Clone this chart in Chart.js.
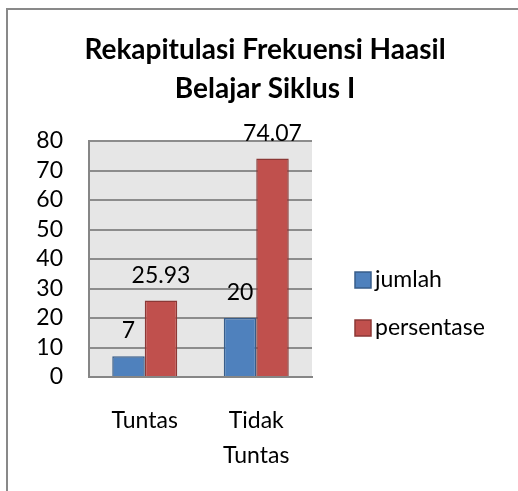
<!DOCTYPE html>
<html>
<head>
<meta charset="utf-8">
<script src="https://cdn.jsdelivr.net/npm/chart.js@4"></script>
<style>
  body { margin: 0; background: #fff; }
  #wrap { position: relative; width: 518px; height: 491px; overflow: hidden; }
  #frame { position: absolute; left: 6px; top: 8px; width: 520px; height: 500px;
           border-top: 2px solid #898989; border-left: 2px solid #898989; }
  canvas { position: absolute; left: 0; top: 0; }
</style>
</head>
<body>
<div id="wrap">
  <div id="frame"></div>
  <canvas id="chart" width="518" height="491"></canvas>
</div>
<script>
// chart data
const categories = [['Tuntas'], ['Tidak', 'Tuntas']];
const seriesNames = ['jumlah', 'persentase'];
const jumlah = [7, 20];
const persentase = [25.93, 74.07];
const yMin = 0, yMax = 80, yStep = 10;

const FONT = 'Lato';

// grey plot area behind the bars
const plotBg = {
    id: 'plotBg',
    beforeDraw(chart) {
        const a = chart.chartArea;
        const ctx = chart.ctx;
        ctx.save();
        ctx.fillStyle = '#e6e6e6';
        ctx.fillRect(a.left, a.top, a.right - a.left, a.bottom - a.top);
        ctx.restore();
    }
};

// value labels above each bar
const valueLabels = {
    id: 'valueLabels',
    afterDatasetsDraw(chart) {
        const ctx = chart.ctx;
        ctx.save();
        ctx.font = '23px ' + FONT;
        ctx.fillStyle = '#000';
        ctx.textAlign = 'center';
        ctx.textBaseline = 'alphabetic';
        chart.data.datasets.forEach((ds, i) => {
            chart.getDatasetMeta(i).data.forEach((bar, j) => {
                ctx.fillText(String(ds.data[j]), bar.x, bar.y - 18);
            });
        });
        ctx.restore();
    }
};

// legend to the right of the plot, excel style
const sideLegend = {
    id: 'sideLegend',
    afterDraw(chart) {
        const ctx = chart.ctx;
        const x = chart.chartArea.right + 43;
        let y = chart.chartArea.top + 131;
        ctx.save();
        ctx.font = '23px ' + FONT;
        ctx.textBaseline = 'middle';
        ctx.textAlign = 'left';
        chart.data.datasets.forEach(ds => {
            ctx.fillStyle = ds.backgroundColor;
            ctx.fillRect(x, y, 16, 16);
            ctx.strokeStyle = ds.borderColor;
            ctx.lineWidth = 1.5;
            ctx.strokeRect(x, y, 16, 16);
            ctx.fillStyle = '#000';
            ctx.fillText(ds.label, x + 20, y + 8);
            y += 48;
        });
        ctx.restore();
    }
};

new Chart(document.getElementById('chart').getContext('2d'), {
    type: 'bar',
    data: {
        labels: categories,
        datasets: [{
            label: seriesNames[0],
            data: jumlah,
            backgroundColor: '#4f81bd',
            borderColor: '#385d8a',
            borderWidth: 1.5
        }, {
            label: seriesNames[1],
            data: persentase,
            backgroundColor: '#c0504d',
            borderColor: '#8c3836',
            borderWidth: 1.5
        }]
    },
    options: {
        responsive: false,
        animation: false,
        devicePixelRatio: 1,
        datasets: { bar: { barPercentage: 1, categoryPercentage: 0.583 } },
        layout: { padding: { left: 36, right: 24, top: 0, bottom: 18 } },
        scales: {
            x: {
                grid: { display: false, drawTicks: false },
                border: { display: true, color: '#868686', width: 2 },
                ticks: { color: '#000', padding: 26, font: { family: FONT, size: 23, lineHeight: 1.52 } },
                afterFit: s => { s.height = 96; }
            },
            y: {
                min: yMin, max: yMax,
                grid: { color: '#8c8c8c', lineWidth: 2, drawTicks: false },
                border: { display: true, color: '#868686', width: 2 },
                ticks: { stepSize: yStep, autoSkip: false, color: '#000', padding: 26, font: { family: FONT, size: 23 } },
                afterFit: s => { s.width = 89 - 36; }
            },
            // empty right axis that keeps room for the legend
            y2: {
                position: 'right',
                display: true,
                grid: { display: false, drawTicks: false },
                border: { display: false },
                ticks: { display: false },
                afterFit: s => { s.width = 518 - 24 - 312; }
            }
        },
        plugins: {
            title: {
                display: true,
                text: ['Rekapitulasi Frekuensi Haasil', 'Belajar Siklus I'],
                color: '#000',
                font: { family: FONT, size: 28, weight: 'bold', lineHeight: 1.393 },
                padding: { top: 30, bottom: 33 }
            },
            legend: { display: false },
            tooltip: { enabled: false }
        }
    },
    plugins: [plotBg, valueLabels, sideLegend]
});
</script>
</body>
</html>
